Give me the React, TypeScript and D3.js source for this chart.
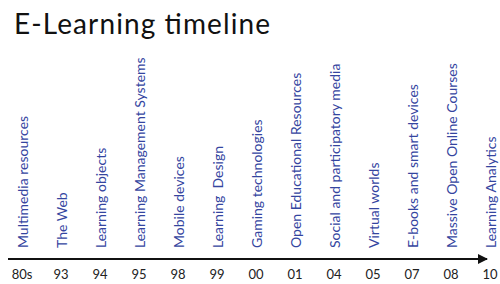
import { useEffect, useRef } from "react";
import * as d3 from "d3";

const years = ["80s", "93", "94", "95", "98", "99", "00", "01", "04", "05", "07", "08", "10"];
const topics = [
  "Multimedia resources",
  "The Web",
  "Learning objects",
  "Learning Management Systems",
  "Mobile devices",
  "Learning  Design",
  "Gaming technologies",
  "Open Educational Resources",
  "Social and participatory media",
  "Virtual worlds",
  "E-books and smart devices",
  "Massive Open Online Courses",
  "Learning Analytics",
];

const App = () => {
  const ref = useRef<SVGSVGElement>(null);

  useEffect(() => {
    const width = 500;
    const height = 284;
    const axisY = 259;

    const svg = d3.select(ref.current).html("");
    svg.append("rect").attr("width", width).attr("height", height).attr("fill", "#fff");

    svg
      .append("defs")
      .append("marker")
      .attr("id", "arrow")
      .attr("viewBox", "0 0 10 10")
      .attr("refX", 9)
      .attr("refY", 5)
      .attr("markerWidth", 6)
      .attr("markerHeight", 5)
      .attr("markerUnits", "strokeWidth")
      .attr("orient", "auto")
      .append("path")
      .attr("d", "M0,0 L10,5 L0,10 z")
      .attr("fill", "#111");

    svg
      .append("text")
      .attr("x", 14)
      .attr("y", 34)
      .attr("font-family", "Lato, sans-serif")
      .attr("font-size", 28)
      .attr("textLength", 256)
      .attr("lengthAdjust", "spacing")
      .attr("fill", "#111")
      .text("E-Learning timeline");

    const x = d3.scalePoint().domain(years).range([22, 490]);

    // axis line with arrow head
    svg
      .append("line")
      .attr("x1", 8)
      .attr("x2", 487)
      .attr("y1", axisY)
      .attr("y2", axisY)
      .attr("stroke", "#111")
      .attr("stroke-width", 2)
      .attr("marker-end", "url(#arrow)");

    svg
      .append("g")
      .selectAll("text")
      .data(years)
      .enter()
      .append("text")
      .attr("x", (d) => x(d)!)
      .attr("y", 279)
      .attr("text-anchor", "middle")
      .attr("font-family", "Lato, sans-serif")
      .attr("font-size", 13)
      .attr("fill", "#222")
      .text((d) => d);

    svg
      .append("g")
      .selectAll("text")
      .data(topics)
      .enter()
      .append("text")
      .attr("transform", (d, i) => `translate(${x(years[i])! + 6},248) rotate(-90)`)
      .attr("font-family", "Lato, sans-serif")
      .attr("font-size", 14)
      .attr("fill", "#34459f")
      .style("white-space", "pre")
      .text((d) => d);
  }, []);

  return (
    <svg
      ref={ref}
      width={500}
      height={284}
      style={{ position: "absolute", left: 0, top: 0 }}
    />
  );
};

export default App;
